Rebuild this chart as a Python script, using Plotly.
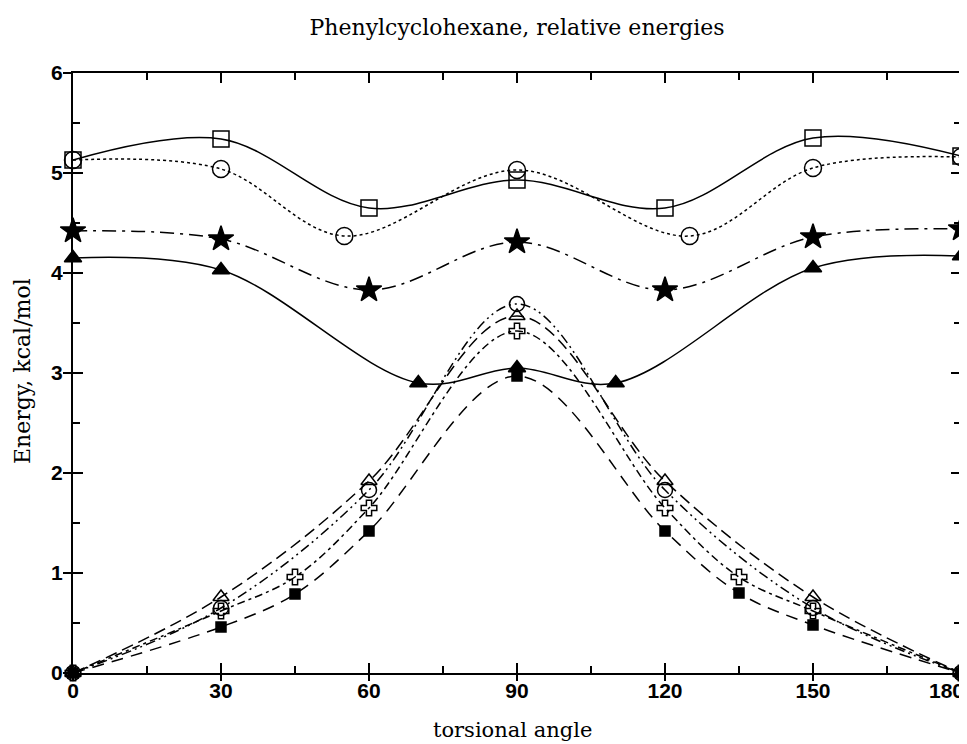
import plotly.graph_objects as go

# ---- data ----
sq_x = [0, 30, 60, 90, 120, 150, 180]
sq_y = [5.13, 5.34, 4.65, 4.93, 4.65, 5.35, 5.17]

ci_x = [0, 30, 55, 90, 125, 150, 180]
ci_y = [5.13, 5.04, 4.37, 5.03, 4.37, 5.05, 5.16]

st_x = [0, 30, 60, 90, 120, 150, 180]
st_y = [4.42, 4.34, 3.83, 4.31, 3.83, 4.36, 4.44]

tf_x = [0, 30, 70, 90, 110, 150, 180]
tf_y = [4.15, 4.03, 2.90, 3.05, 2.90, 4.05, 4.17]

to_x = [0, 30, 60, 90, 120, 150, 180]
to_y = [0.0, 0.76, 1.92, 3.57, 1.92, 0.76, 0.0]

co_x = [0, 30, 60, 90, 120, 150, 180]
co_y = [0.0, 0.65, 1.83, 3.69, 1.83, 0.65, 0.0]

cr_x = [0, 30, 45, 60, 90, 120, 135, 150, 180]
cr_y = [0.0, 0.62, 0.96, 1.65, 3.42, 1.65, 0.96, 0.62, 0.0]

sf_x = [0, 30, 45, 60, 90, 120, 135, 150, 180]
sf_y = [0.0, 0.46, 0.79, 1.42, 2.97, 1.42, 0.80, 0.48, 0.0]

x_ticks = [0, 30, 60, 90, 120, 150, 180]
y_ticks = [0, 1, 2, 3, 4, 5, 6]

series = [
    (sq_x, sq_y, "solid", "square-open", 16),
    (ci_x, ci_y, "dot", "circle-open", 17),
    (st_x, st_y, "14px,6px,3px,6px", "star", 19),
    (tf_x, tf_y, "solid", "triangle-up", 15),
    (to_x, to_y, "12px,6px", "triangle-up-open", 14),
    (co_x, co_y, "10px,4px,2px,4px,2px,4px", "circle-open", 15),
    (cr_x, cr_y, "3px,4px,8px,4px", "cross-open", 13),
    (sf_x, sf_y, "12px,8px", "square", 10),
]

SERIF = "DejaVu Serif"
SANS = "Liberation Sans, Arial"
TICKFONT = dict(family=SANS, size=21, color="black", weight="bold")

# the page shows the figure with an 8 px offset, so work in page pixels minus 8
OFF = 8
W, H = 967 - OFF, 744 - OFF
L, T, R, B = 73 - OFF, 73 - OFF, W - (961 - OFF), H - (673 - OFF)
PW, PH = W - L - R, H - T - B

fig = go.Figure()
for xs, ys, dash, sym, size in series:
    fig.add_trace(go.Scatter(
        x=xs, y=ys, mode="lines+markers", cliponaxis=False,
        line=dict(color="black", width=1.5, dash=dash, shape="spline", smoothing=1.0),
        marker=dict(symbol=sym, size=size, color="black",
                    line=dict(color="black", width=1.5)),
        showlegend=False,
    ))

# invisible trace on the overlay axes so that they are drawn
fig.add_trace(go.Scatter(x=[0, 180], y=[0, 6], mode="lines", xaxis="x2", yaxis="y2",
                         line=dict(width=0, color="rgba(0,0,0,0)"),
                         hoverinfo="skip", showlegend=False))

axis_common = dict(
    showgrid=False, zeroline=False, showline=True, linecolor="black", linewidth=2,
    mirror="ticks", ticks="inside", tickcolor="black", tickwidth=1.5, ticklen=10,
    tickfont=TICKFONT,
    minor=dict(ticks="inside", ticklen=7, tickwidth=1.5, tickcolor="black"),
    automargin=False, ticklabeloverflow="allow",
)

# last x tick label is placed as an annotation so it stays inside the page
x_ticktext = [str(v) for v in x_ticks[:-1]] + [""]

fig.update_layout(
    xaxis=dict(range=[0, 180], tickvals=x_ticks, ticktext=x_ticktext,
               minor_dtick=15, ticklabelstandoff=-2, **axis_common),
    yaxis=dict(range=[0, 6], tickvals=y_ticks, ticktext=[str(v) for v in y_ticks],
               minor_dtick=0.5, ticklabelstandoff=4, **axis_common),
    # overlay axes giving the short outward part of the crossing major ticks
    xaxis2=dict(range=[0, 180], overlaying="x", anchor="y2", side="bottom",
                tickvals=x_ticks, showticklabels=False, ticks="outside", ticklen=7,
                tickwidth=1.5, tickcolor="black", showline=False, showgrid=False,
                zeroline=False, automargin=False),
    yaxis2=dict(range=[0, 6], overlaying="y", anchor="x2", side="left",
                tickvals=y_ticks, showticklabels=False, ticks="outside", ticklen=9,
                tickwidth=1.5, tickcolor="black", showline=False, showgrid=False,
                zeroline=False, automargin=False),
    width=W, height=H,
    margin=dict(l=L, r=R, t=T, b=B, pad=0),
    paper_bgcolor="white", plot_bgcolor="white",
    title=dict(text="Phenylcyclohexane, relative energies",
               x=(517 - 73) / PW, xref="paper", xanchor="center",
               y=1 - (27 - OFF) / H, yref="container", yanchor="middle",
               automargin=False,
               font=dict(family=SERIF, size=22, color="black")),
)

fig.add_annotation(text=str(x_ticks[-1]), x=x_ticks[-1], xref="x", yref="paper",
                   y=-(690 - 673) / PH, xanchor="right", yanchor="middle",
                   xshift=5, showarrow=False, font=TICKFONT)
fig.add_annotation(text="torsional angle", xref="paper", yref="paper",
                   x=(512 - 73) / PW, y=-(730 - 673) / PH,
                   xanchor="center", yanchor="middle", showarrow=False,
                   font=dict(family=SERIF, size=21, color="black"))
fig.add_annotation(text="Energy, kcal/mol", xref="paper", yref="paper",
                   x=-(73 - 22) / PW, y=(673 - 371) / PH, textangle=-90,
                   xanchor="center", yanchor="middle", showarrow=False,
                   font=dict(family=SERIF, size=22, color="black"))

fig.write_html("out.html")
